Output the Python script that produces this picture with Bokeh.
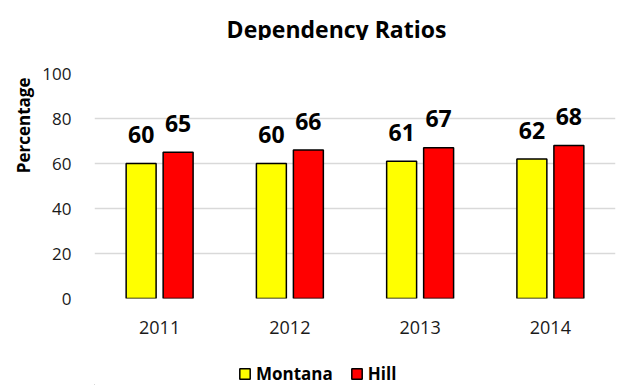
from bokeh.plotting import figure
from bokeh.layouts import column
from bokeh.models import ColumnDataSource, FactorRange, Range1d, Legend, LegendItem, FixedTicker, Title
from bokeh.transform import dodge
from bokeh.core.properties import value
from bokeh.embed import file_html
from bokeh.resources import INLINE

years = ["2011", "2012", "2013", "2014"]
montana = [60, 60, 61, 62]
hill = [65, 66, 67, 68]
y_ticks = [0, 20, 40, 60, 80, 100]
series_names = ["Montana", "Hill"]
series_colors = ["#ffff00", "#ff0000"]
chart_title = "Dependency Ratios"

FONT = "Open Sans"

src = ColumnDataSource(dict(
    year=years,
    montana=montana,
    hill=hill,
    montana_lbl=[str(v) for v in montana],
    hill_lbl=[str(v) for v in hill],
))

# title strip on top
tf = figure(
    width=618, height=40, title=None,
    x_range=Range1d(0, 1), y_range=Range1d(0, 1),
    output_backend="svg", toolbar_location=None,
    min_border=0,
)
tf.axis.visible = False
tf.grid.visible = False
tf.outline_line_color = None
tf.border_fill_color = "white"
tf.text(x=[0.4645], y=[0.3], text=[chart_title], text_align="center",
        text_baseline="alphabetic", text_font=value(FONT), text_font_style="bold",
        text_font_size="23px", text_color="black")

p = figure(
    width=618, height=315,
    x_range=FactorRange(factors=years, range_padding=0),
    y_range=Range1d(0, 100),
    output_backend="svg", toolbar_location=None,
    min_border_left=94, min_border_right=3,
    min_border_top=33, min_border_bottom=57,
)

p.outline_line_color = None
p.background_fill_color = "white"
p.border_fill_color = "white"

off = 0.142
bw = 0.23
p.vbar(x=dodge("year", -off, range=p.x_range), top="montana", width=bw, source=src,
       fill_color=series_colors[0], line_color="black", line_width=1.5)
p.vbar(x=dodge("year", off, range=p.x_range), top="hill", width=bw, source=src,
       fill_color=series_colors[1], line_color="black", line_width=1.5)

# value labels above each bar
for col, dx in (("montana", -off), ("hill", off)):
    p.text(x=dodge("year", dx, range=p.x_range), y=col, text=col + "_lbl", source=src,
           text_align="center", text_baseline="alphabetic", y_offset=-29,
           text_font=value(FONT), text_font_style="bold", text_font_size="23px",
           text_color="black")

# axes
p.yaxis.ticker = FixedTicker(ticks=y_ticks)
p.yaxis.axis_line_color = None
p.yaxis.major_tick_line_color = None
p.yaxis.minor_tick_line_color = None
p.yaxis.major_label_standoff = 17
p.yaxis.major_label_text_font = FONT
p.yaxis.major_label_text_font_size = "17px"
p.yaxis.major_label_text_color = "#1a1a1a"

# vertical axis title, set toward the top of the axis
p.add_layout(Title(text="Percentage", align="right", offset=4, standoff=10,
                   text_font=FONT, text_font_style="bold", text_font_size="17px",
                   text_color="black"), "left")

p.xaxis.axis_line_color = None
p.xaxis.major_tick_line_color = None
p.xaxis.minor_tick_line_color = None
p.xaxis.major_label_standoff = 16
p.xaxis.major_label_text_font = FONT
p.xaxis.major_label_text_font_size = "18px"
p.xaxis.major_label_text_color = "#1a1a1a"

p.xgrid.grid_line_color = None
p.ygrid.grid_line_color = "#d9d9d9"
p.ygrid.grid_line_width = 1.5

# legend strip underneath the chart
lf = figure(
    width=618, height=30, title=None,
    x_range=Range1d(0, 1), y_range=Range1d(0, 1),
    output_backend="svg", toolbar_location=None,
    min_border=0,
)
lf.axis.visible = False
lf.grid.visible = False
lf.outline_line_color = None
lf.border_fill_color = "white"

items = []
for name, color in zip(series_names, series_colors):
    # swatch renderer kept outside the visible range; only its legend entry shows
    r = lf.vbar(x=[-10], top=[-10], bottom=[-11], width=0.1,
                fill_color=color, line_color="black", line_width=1.5)
    items.append(LegendItem(label=name, renderers=[r]))

legend = Legend(
    items=items,
    orientation="horizontal",
    location=(144, 0),
    glyph_width=13, glyph_height=13,
    label_standoff=5, spacing=17, padding=0, margin=0,
    label_text_font=FONT, label_text_font_style="bold", label_text_font_size="17px",
    label_text_color="black",
    border_line_color=None, background_fill_alpha=0,
)
lf.add_layout(legend, "center")

layout = column(tf, p, lf, spacing=0)
open("out.html", "w").write(file_html(layout, INLINE))
